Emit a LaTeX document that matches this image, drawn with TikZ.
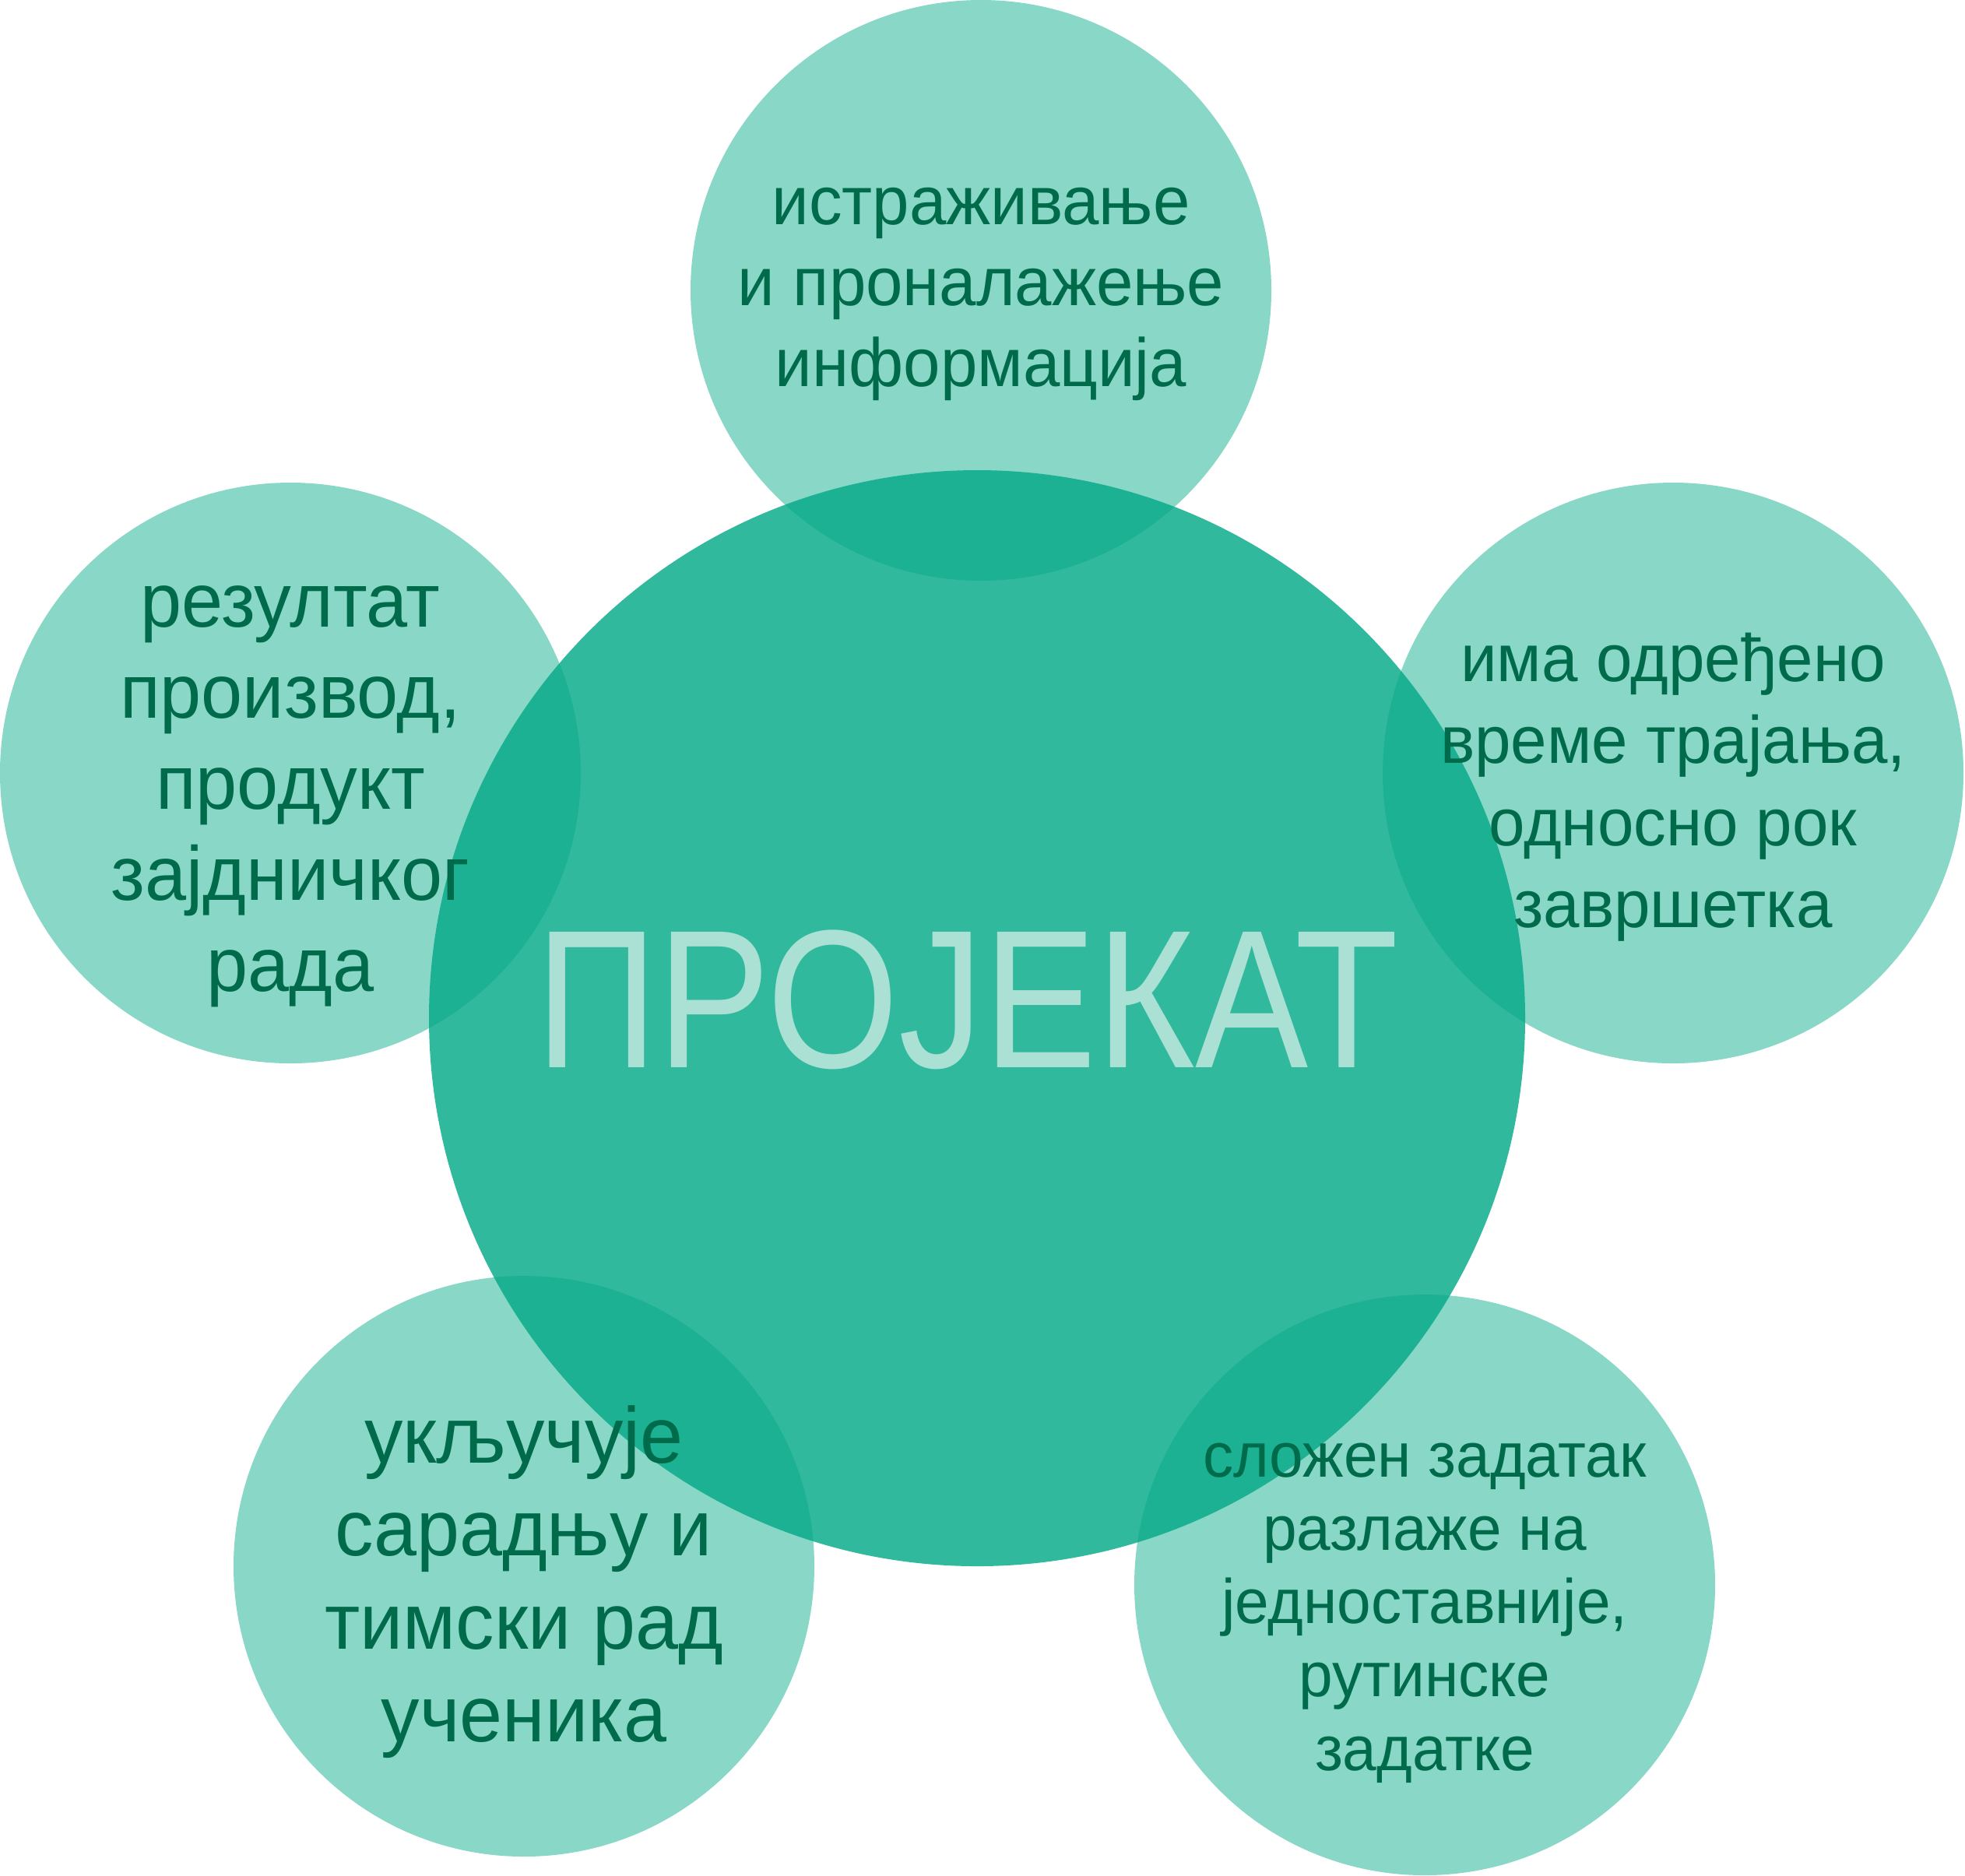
\documentclass[tikz,border=0pt]{standalone}
\usepackage{fontspec}
\setmainfont[FakeStretch=0.86]{Liberation Sans}
\newfontfamily\lblfont[FakeStretch=0.97]{Liberation Sans}
\usetikzlibrary{positioning}
\definecolor{tealbase}{HTML}{03A987}
\definecolor{txtgreen}{HTML}{006B4A}
\definecolor{titlemint}{HTML}{ABE0D4}

\begin{document}
\begin{tikzpicture}[
  bigdisc/.style={circle, fill=tealbase, fill opacity=0.82, minimum size=14.08cm, inner sep=0pt},
  disc/.style={circle, fill=tealbase, fill opacity=0.47, minimum size=7.46cm, inner sep=0pt},
  lbl/.style 2 args={align=center, text=txtgreen, inner sep=0pt, font=\lblfont\fontsize{#1}{#2}\selectfont},
  title/.style={text=titlemint, inner sep=0pt, font=\fontsize{72}{80}\selectfont},
]
  \useasboundingbox (0,0) rectangle (25.24,-24.09);

  % circles
  \node[bigdisc] (proj) at (12.55,-13.08) {};
  \node[disc] (top)   at (12.60,-3.73) {};
  \node[disc] (left)  at (3.73,-9.93) {};
  \node[disc] (right) at (21.49,-9.93) {};
  \node[disc] (botl)  at (6.73,-20.12) {};
  \node[disc] (botr)  at (18.30,-20.36) {};

  % texts
  \node[title, anchor=base] (ptitle) at (12.42,-13.71) {ПРОЈЕКАТ};
  \node[lbl={25}{29.5}] (ttop) at ([yshift=-0.05cm]top.center) {истраживање\\и проналажење\\информација};
  \node[lbl={28}{33.3}] (tleft) at ([yshift=-0.3cm]left.center) {резултат\\производ,\\продукт\\зајдничког\\рада};
  \node[lbl={24.5}{30}] (tright) at ([yshift=-0.18cm]right.center) {има одређено\\време трајања,\\односно рок\\завршетка};
  \node[lbl={29}{34}] (tbotl) at ([yshift=-0.2cm]botl.center) {укључује\\сарадњу и\\тимски рад\\ученика};
  \node[lbl={23}{26.8}] (tbotr) at ([yshift=-0.36cm]botr.center) {сложен задатак\\разлаже на\\једноставније,\\рутинске\\задатке};
\end{tikzpicture}
\end{document}
